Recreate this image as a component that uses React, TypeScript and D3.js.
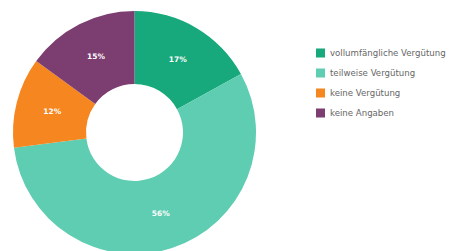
import React from "react";
import * as d3 from "d3";

const categories = ["vollumfängliche Vergütung", "teilweise Vergütung", "keine Vergütung", "keine Angaben"];
const values = [17, 56, 12, 15];
const colors = ["#17a87b", "#5ecdb1", "#f6861f", "#7c3d71"];

const W = 452;
const H = 251;
const cx = 134.5;
const cy = 132.5;
const outerR = 121.5;
const innerR = 48.5;

export default function App() {
  const pie = d3.pie<number>().sort(null).value((d) => d)(values);
  const arc = d3.arc<d3.PieArcDatum<number>>().innerRadius(innerR).outerRadius(outerR);
  const legendY = d3.scaleBand<string>().domain(categories).range([43, 123]);

  return (
    <svg
      width={W}
      height={H}
      style={{ position: "absolute", left: 0, top: 0, background: "#fff" }}
      fontFamily="Liberation Sans, Arial, sans-serif"
    >
      <g transform={`translate(${cx},${cy})`}>
        {pie.map((p, i) => (
          <path key={i} d={arc(p) || ""} fill={colors[i]} />
        ))}
        {pie.map((p, i) => {
          const [x, y] = arc.centroid(p);
          return (
            <text
              key={"t" + i}
              x={x}
              y={y}
              textAnchor="middle"
              dominantBaseline="central"
              fill="#fff"
              fontSize={7.5}
              fontWeight="bold"
              fontFamily="DejaVu Sans, sans-serif"
            >
              {values[i]}%
            </text>
          );
        })}
      </g>
      <g>
        {categories.map((c, i) => {
          const y = (legendY(c) || 0) + legendY.bandwidth() / 2;
          return (
            <g key={c}>
              <rect x={316} y={y - 4.5} width={9} height={9} fill={colors[i]} />
              <text
                x={330}
                y={y}
                dominantBaseline="central"
                fontSize={8.6}
                fill="#666"
                fontFamily="DejaVu Sans, sans-serif"
              >
                {c}
              </text>
            </g>
          );
        })}
      </g>
    </svg>
  );
}
